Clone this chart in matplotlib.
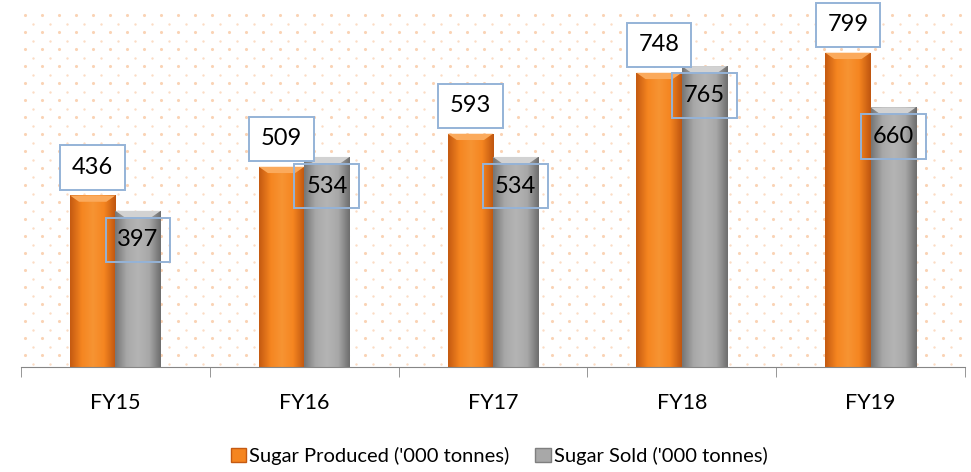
import numpy as np
import matplotlib
matplotlib.use("Agg")
import matplotlib.pyplot as plt
from matplotlib.colors import LinearSegmentedColormap
from matplotlib.patches import Polygon, Rectangle

years = ["FY15", "FY16", "FY17", "FY18", "FY19"]
produced = [436, 509, 593, 748, 799]
sold = [397, 534, 534, 765, 660]
series_names = ["Sugar Produced ('000 tonnes)", "Sugar Sold ('000 tonnes)"]

plt.rcParams["font.family"] = ["Lato", "DejaVu Sans"]

fig = plt.figure(figsize=(9.71, 4.72), dpi=100)
ax = fig.add_axes([0.0216, 0.2225, 0.9722, 0.7625])

x = np.arange(len(years))
w = 0.24

orange_cmap = LinearSegmentedColormap.from_list(
    "o", ["#C55A11", "#F58520", "#F79433", "#F58520", "#BF5610"])
gray_cmap = LinearSegmentedColormap.from_list(
    "g", ["#767676", "#A8A8A8", "#B4B4B4", "#A8A8A8", "#6E6E6E"])


def shaded_bars(xs, vals, cmap, top_color):
    bars = ax.bar(xs, vals, w, color="none", zorder=2)
    grad = np.linspace(0, 1, 64).reshape(1, -1)
    for b in bars:
        x0, y0 = b.get_x(), b.get_y()
        x1, y1 = x0 + b.get_width(), y0 + b.get_height()
        im = ax.imshow(grad, cmap=cmap, aspect="auto", extent=(x0, x1, y0, y1),
                       zorder=2, interpolation="bicubic")
        im.set_clip_path(b)
        bev = 16
        inset = b.get_width() * 0.2
        ax.add_patch(Polygon([(x0, y1), (x1, y1), (x1 - inset, y1 - bev), (x0 + inset, y1 - bev)],
                             closed=True, facecolor=top_color, edgecolor="none", zorder=3))
    return bars


shaded_bars(x - w / 2, produced, orange_cmap, "#FBAA5C")
shaded_bars(x + w / 2, sold, gray_cmap, "#D2D2D2")

box_col = "#95B3D7"
for xi, v in zip(x - w / 2, produced):
    ax.annotate(str(v), (xi, v), xytext=(0, 20), textcoords="offset points",
                ha="center", va="center", fontsize=17, zorder=5,
                bbox=dict(boxstyle="square,pad=0.5", facecolor="white", edgecolor=box_col, lw=1.4))
for xi, v in zip(x + w / 2, sold):
    ax.annotate(str(v), (xi, v), xytext=(0, -21), textcoords="offset points",
                ha="center", va="center", fontsize=17, zorder=5,
                bbox=dict(boxstyle="square,pad=0.5", facecolor="none", edgecolor=box_col, lw=1.4))

ax.set_xlim(-0.5, len(years) - 0.5)
ax.set_ylim(0, 915)

# dotted background pattern
fig.canvas.draw()
bb = ax.get_window_extent()
sp = 17.0
px = np.arange(4, bb.width, sp)
py = np.arange(bb.height - 8, 0, -sp)
gx, gy = np.meshgrid(px, py)
ax.scatter(gx.ravel() / bb.width, gy.ravel() / bb.height, s=5, color="#FAD3B5",
           transform=ax.transAxes, zorder=0, linewidths=0)
ax.scatter((gx.ravel() + sp / 2) / bb.width, (gy.ravel() - sp / 2) / bb.height, s=3,
           color="#FBDCC4", transform=ax.transAxes, zorder=0, linewidths=0, clip_on=True)

for s in ["top", "left", "right"]:
    ax.spines[s].set_visible(False)
ax.spines["bottom"].set_color("#868686")
ax.set_yticks([])
ax.set_xticks(x)
ax.set_xticklabels(years, fontsize=15.5)
ax.tick_params(axis="x", length=0, pad=19)
ax.set_xticks(np.arange(-0.5, len(years), 1), minor=True)
ax.tick_params(axis="x", which="minor", length=7, color="#868686", direction="out")

handles = [Rectangle((0, 0), 1, 1, facecolor="#F58520", edgecolor="#C55A11"),
           Rectangle((0, 0), 1, 1, facecolor="#A8A8A8", edgecolor="#7F7F7F")]
fig.legend(handles, series_names, loc="center", bbox_to_anchor=(0.514, 0.034), ncol=2,
           frameon=False, fontsize=14.5, handlelength=0.75, handleheight=0.75,
           handletextpad=0.15, columnspacing=1.3)

fig.savefig("out.png", dpi=100)
